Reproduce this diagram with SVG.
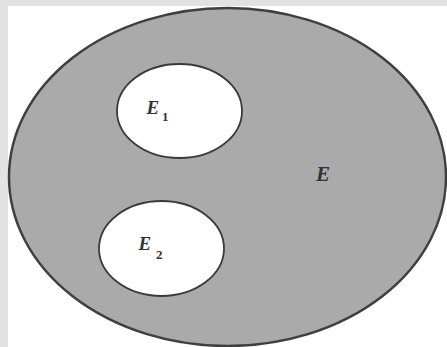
<svg xmlns="http://www.w3.org/2000/svg" width="447" height="347" viewBox="0 0 447 347">
<style>
.lbl{font-family:"Liberation Serif","DejaVu Serif",serif;font-style:italic;font-weight:bold;fill:#333}
.sub{font-family:"Liberation Serif","DejaVu Serif",serif;font-weight:bold;fill:#333}
.inner{fill:#ffffff;stroke:#3a3a3a;stroke-width:1.8}
</style>
<rect x="0" y="0" width="447" height="347" fill="#e2e2e2"/>
<rect x="8" y="6" width="439" height="341" fill="#ffffff"/>
<g id="E">
<ellipse cx="227.5" cy="177" rx="218.5" ry="169" fill="#aaaaaa" stroke="#3f3f3f" stroke-width="2.5"/>
<text class="lbl" x="316" y="180.5" font-size="21">E</text>
</g>
<g id="E1">
<ellipse class="inner" cx="179.5" cy="111" rx="62.5" ry="47"/>
<text class="lbl" x="146.5" y="114" font-size="19">E</text>
<text class="sub" x="162" y="120.5" font-size="13">1</text>
</g>
<g id="E2">
<ellipse class="inner" cx="161.5" cy="248.5" rx="62.5" ry="47.5"/>
<text class="lbl" x="138.5" y="250" font-size="19">E</text>
<text class="sub" x="156" y="259" font-size="13">2</text>
</g>
</svg>
